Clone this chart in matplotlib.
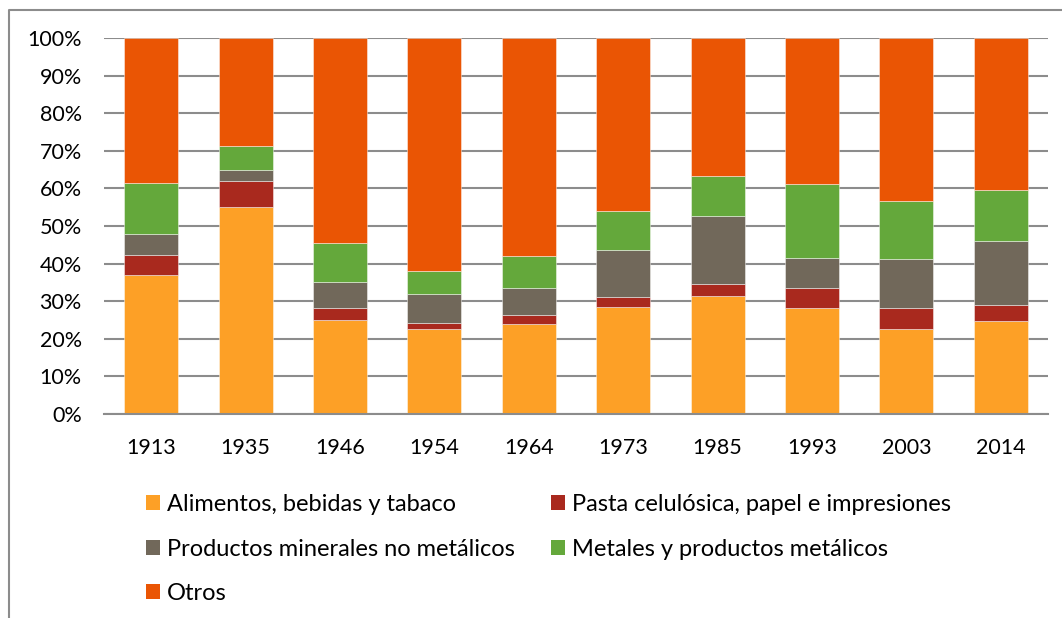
import numpy as np
import matplotlib
matplotlib.use("Agg")
import matplotlib.pyplot as plt
from matplotlib.patches import Patch
from matplotlib.lines import Line2D

plt.rcParams['font.family'] = ['Lato', 'DejaVu Sans']

# data (shares in %)
years = ['1913', '1935', '1946', '1954', '1964', '1973', '1985', '1993', '2003', '2014']
alimentos = [37.0, 55.0, 25.0, 22.7, 24.0, 28.5, 31.5, 28.2, 22.7, 24.7]
pasta = [5.2, 6.9, 3.2, 1.6, 2.2, 2.7, 3.2, 5.4, 5.4, 4.4]
minerales = [5.7, 2.9, 6.8, 7.7, 7.3, 12.4, 18.0, 8.0, 13.1, 17.0]
metales = [13.6, 6.4, 10.6, 5.9, 8.5, 10.5, 10.7, 19.6, 15.4, 13.5]
otros = [38.5, 28.8, 54.4, 62.1, 58.0, 45.9, 36.6, 38.8, 43.4, 40.4]

series = [
    ('Alimentos, bebidas y tabaco', alimentos, '#FDA026'),
    ('Pasta celulósica, papel e impresiones', pasta, '#A9291E'),
    ('Productos minerales no metálicos', minerales, '#71685A'),
    ('Metales y productos metálicos', metales, '#64A83B'),
    ('Otros', otros, '#EA5504'),
]

W, H = 1062, 618
fig = plt.figure(figsize=(W / 100, H / 100), dpi=100)
ax = fig.add_axes([104 / W, 1 - 414 / H, (1048 - 104) / W, (414 - 38) / H])

x = np.arange(len(years))
bottom = np.zeros(len(years))
for name, vals, col in series:
    vals = np.array(vals)
    ax.bar(x, vals, 0.572, bottom=bottom, color=col, edgecolor=(1, 1, 1, 0.45),
           linewidth=0.7, zorder=3)
    bottom += vals

ax.set_xlim(-0.5, len(years) - 0.5)
ax.set_ylim(0, 100)
ax.set_yticks(np.arange(0, 101, 10))
ax.set_yticklabels([f'{v}%' for v in range(0, 101, 10)])
ax.set_xticks(x)
ax.set_xticklabels(years)
ax.tick_params(axis='both', length=0, labelsize=15.5, colors='black')
ax.tick_params(axis='y', pad=16)
ax.tick_params(axis='x', pad=17)
ax.grid(axis='y', color='#8c8c8c', linewidth=1.5, zorder=0)
for s in ['top', 'right', 'left']:
    ax.spines[s].set_visible(False)
ax.spines['bottom'].set_color('#8c8c8c')
ax.spines['bottom'].set_linewidth(1.5)
ax.spines['bottom'].set_zorder(4)

# outer frame (only top and left are visible in the crop)
fig.add_artist(Line2D([9 / W, 9 / W, 1], [0, 1 - 10 / H, 1 - 10 / H],
                      color='#8c8c8c', linewidth=1.5))

handles = [Patch(facecolor=c, label=n) for n, v, c in series]
leg_kw = dict(frameon=False, fontsize=17, handlelength=0.6, handleheight=0.6,
              handletextpad=0.3, labelspacing=1.0, borderpad=0, borderaxespad=0)
leg1 = fig.legend(handles=[handles[0], handles[2], handles[4]], loc='upper left',
                  bbox_to_anchor=(146 / W, 1 - 494 / H), **leg_kw)
leg2 = fig.legend(handles=[handles[1], handles[3]], loc='upper left',
                  bbox_to_anchor=(551 / W, 1 - 494 / H), **leg_kw)

fig.savefig('out.png', dpi=100)
